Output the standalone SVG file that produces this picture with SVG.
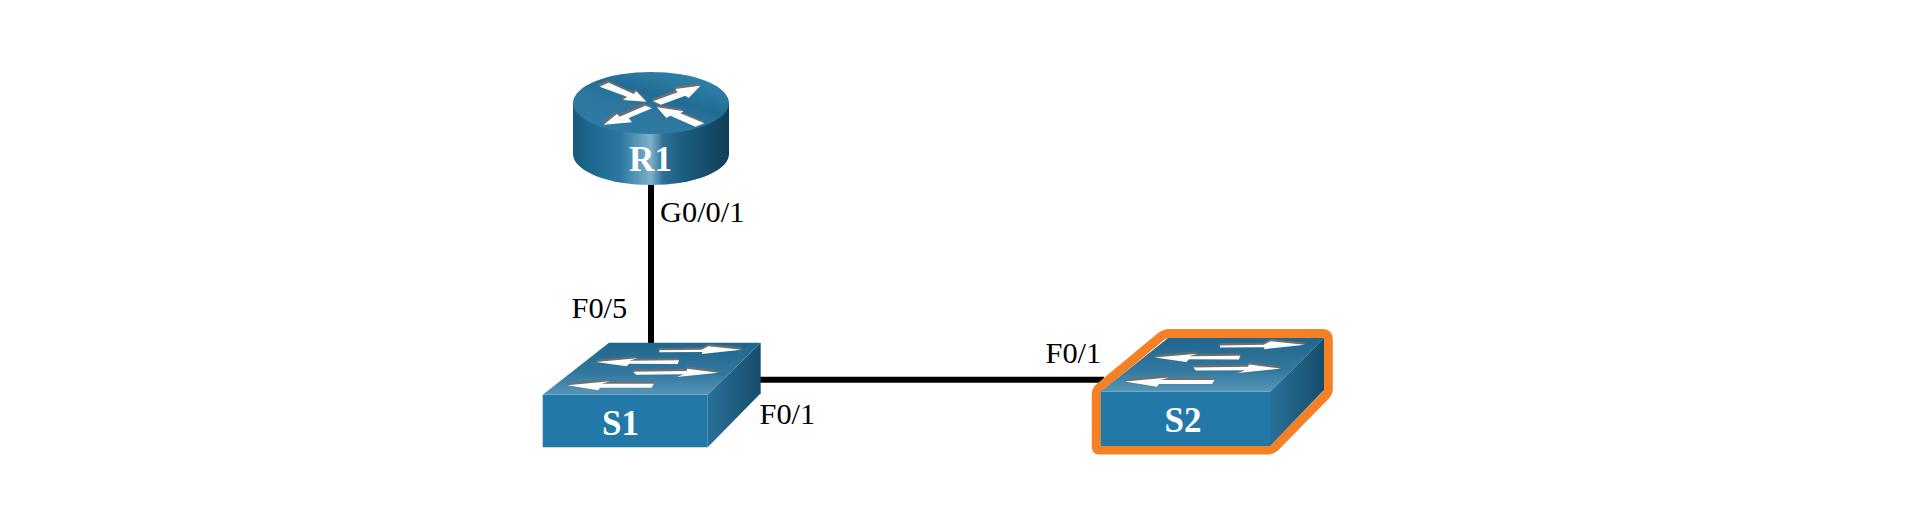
<svg xmlns="http://www.w3.org/2000/svg" xmlns:xlink="http://www.w3.org/1999/xlink" width="1920" height="509" viewBox="0 0 1920 509">
<style>
.lbl{font-family:"Liberation Serif","Times New Roman",serif;font-size:30.400px;fill:#000}
.name{font-family:"Liberation Serif","Times New Roman",serif;font-size:35px;font-weight:bold;fill:#fff;text-anchor:middle}
.wire{stroke:#000;stroke-width:6;fill:none}
.front{fill:#2279a8}
.top{fill:url(#swTop)}
.side{fill:url(#swSide)}
.ag{fill:#6f6f6f;stroke:#6f6f6f;stroke-width:3}
.aw{fill:#fff}
</style>
<defs>
<linearGradient id="swTop" x1="0" y1="0" x2="0" y2="1"><stop offset="0" stop-color="#21668c"/><stop offset="0.6" stop-color="#32789f"/><stop offset="1" stop-color="#5797b8"/></linearGradient>
<linearGradient id="swSide" x1="0" y1="0" x2="1" y2="0"><stop offset="0" stop-color="#2a7198"/><stop offset="1" stop-color="#164d6c"/></linearGradient>
<linearGradient id="rtSide" x1="0" y1="0" x2="1" y2="0"><stop offset="0" stop-color="#195a7c"/><stop offset="0.14" stop-color="#1e6a91"/><stop offset="0.3" stop-color="#2a769f"/><stop offset="0.42" stop-color="#5c9abb"/><stop offset="0.5" stop-color="#7cb0ca"/><stop offset="0.58" stop-color="#2b7096"/><stop offset="0.72" stop-color="#1a5b7d"/><stop offset="1" stop-color="#113f58"/></linearGradient>
<linearGradient id="rtTop" x1="0.15" y1="0.9" x2="0.75" y2="0.05"><stop offset="0" stop-color="#307ba5"/><stop offset="0.4" stop-color="#2c769f"/><stop offset="0.62" stop-color="#216c94"/><stop offset="1" stop-color="#2f82aa"/></linearGradient>
<path id="swA" d="M388 60L515 58L535 48L635 58L515 71L518 65L388 66ZM198 95L322 84L298 91L447 90L443 101L298 100L290 108ZM310 124L470 122L472 115L565 127L440 140L462 132L318 133ZM112 165L240 153L215 160L372 160L365 172L210 172L205 180Z"/>
<path id="rtA" d="M118 78L145 66L220 100L228 92L258 123L188 118L200 108ZM290 140L370 152L360 158L432 188L405 198L330 165L318 172ZM420 75L345 85L352 95L278 122L302 132L375 105L385 112ZM130 192L170 160L178 168L255 135L275 143L205 172L215 185Z"/>
</defs>
<rect width="1920" height="509" fill="#fff"/>
<g id="connectors">
<line class="wire" x1="651" y1="180" x2="651" y2="345"/>
<line class="wire" x1="755" y1="379.700" x2="1104" y2="379.700"/>
</g>
<g id="R1">
<path d="M573 103V154A78 31 0 0 0 729 154V103Z" fill="url(#rtSide)"/>
<ellipse cx="651" cy="103" rx="78" ry="31" fill="url(#rtTop)"/>
<g transform="translate(560 60) scale(.3333)">
<use xlink:href="#rtA" href="#rtA" class="ag" x="-2" y="-4"/>
<use xlink:href="#rtA" href="#rtA" class="aw" x="1" y="2"/>
</g>
<text class="name" x="650.500" y="171">R1</text>
</g>
<g id="S1">
<polygon class="front" points="542.700,394.700 707.700,394.700 707.700,447.300 542.700,447.300"/>
<polygon class="top" points="609,342.700 760.700,342.700 707.700,394.700 542.700,394.700"/>
<polygon class="side" points="707.700,394.700 760.700,342.700 760.700,393.300 707.700,447.300"/>
<g transform="translate(530 330) scale(.3333)">
<use xlink:href="#swA" href="#swA" class="ag" y="-4"/>
<use xlink:href="#swA" href="#swA" class="aw" y="1"/>
</g>
<text class="name" x="620.500" y="435">S1</text>
</g>
<g id="S2">
<path d="M1096.300 394Q1096.300 390 1099.500 387.500L1161 336.500Q1165 333.500 1169 333.500H1323Q1328.300 333.500 1328.300 339V389Q1328.300 392.500 1325.500 395.500L1275 447Q1272 450 1268 450H1099Q1096.300 450 1096.300 447Z" fill="#fff" stroke="#f58025" stroke-width="9" stroke-linejoin="round"/>
<polygon class="front" points="1100.700,391.700 1270,391.700 1270,446 1100.700,446"/>
<polygon class="top" points="1168,338 1324,338 1270,391.700 1100.700,391.700"/>
<polygon class="side" points="1270,391.700 1324,338 1324,390 1270,446"/>
<g transform="translate(1086.500 324.500) scale(.344)">
<use xlink:href="#swA" href="#swA" class="ag" y="-4"/>
<use xlink:href="#swA" href="#swA" class="aw" y="1"/>
</g>
<text class="name" x="1183" y="431.700">S2</text>
</g>
<g id="labels">
<text class="lbl" x="660" y="222">G0/0/1</text>
<text class="lbl" x="571.500" y="318">F0/5</text>
<text class="lbl" x="759.500" y="424">F0/1</text>
<text class="lbl" x="1045.500" y="363">F0/1</text>
</g>
</svg>
